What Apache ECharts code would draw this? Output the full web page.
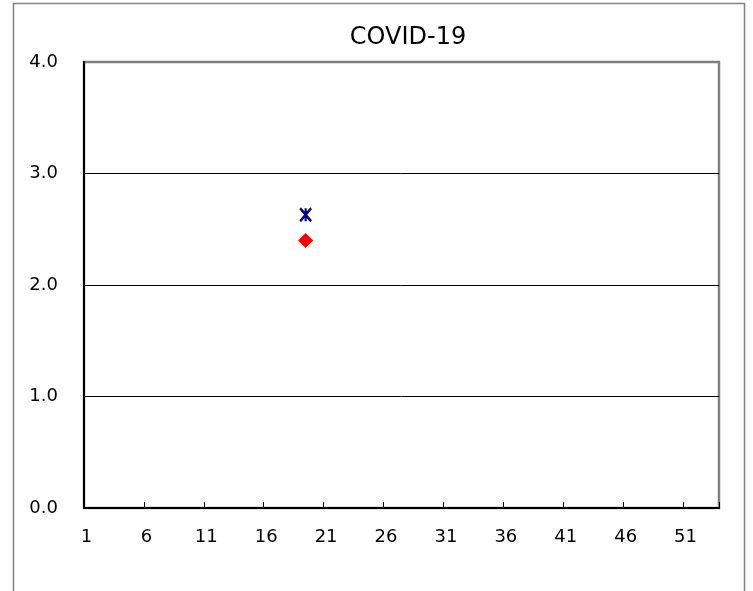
<!DOCTYPE html>
<html>
<head>
<meta charset="utf-8">
<script src="https://cdn.jsdelivr.net/npm/echarts@6/dist/echarts.min.js"></script>
<style>
html,body{margin:0;padding:0;background:#fff;}
#chart{width:753px;height:591px;}
</style>
</head>
<body>
<div id="chart"></div>
<script>
const chartTitle = 'COVID-19';
const weeks = ['1','2','3','4','5','6','7','8','9','10','11','12','13','14','15','16','17','18','19','20',
  '21','22','23','24','25','26','27','28','29','30','31','32','33','34','35','36','37','38','39','40',
  '41','42','43','44','45','46','47','48','49','50','51','52','53'];
const blueWeeks = ['19'];
const blueValues = [2.63];
const redWeeks = ['19'];
const redValues = [2.40];
const yTicks = [0, 1, 2, 3, 4];

const font = '"DejaVu Sans", sans-serif';
const chart = echarts.init(document.getElementById('chart'), null, {renderer: 'canvas'});
chart.setOption({
  animation: false,
  backgroundColor: '#fff',
  graphic: [{
    type: 'rect', silent: true, z: 100,
    shape: {x: 13.5, y: 3.5, width: 731, height: 620},
    style: {fill: 'none', stroke: '#808080', lineWidth: 1.5}
  }, {
    type: 'text', silent: true, z: 100, x: 408, y: 38,
    style: {text: chartTitle, fill: '#000', font: '24px "DejaVu Sans", sans-serif', textAlign: 'center', textVerticalAlign: 'middle'}
  }],
  grid: {left: 84, top: 62, right: 34, bottom: 83, show: true, borderColor: '#808080', borderWidth: 2.5, backgroundColor: 'transparent'},
  xAxis: {
    type: 'category', data: weeks, boundaryGap: true,
    axisLine: {show: true, lineStyle: {color: '#000', width: 2}},
    axisTick: {show: true, inside: true, length: 6, interval: 4, lineStyle: {color: '#000', width: 1}},
    axisLabel: {interval: 4, margin: 20, padding: [0, 7, 0, 0], fontFamily: font, fontSize: 18, color: '#000'},
    splitLine: {show: false}
  },
  yAxis: {
    type: 'value', min: yTicks[0], max: yTicks[yTicks.length - 1], interval: 1,
    axisLine: {show: true, lineStyle: {color: '#000', width: 2}},
    axisTick: {show: false},
    axisLabel: {margin: 26, fontFamily: font, fontSize: 18, color: '#000', formatter: v => v.toFixed(1)},
    splitLine: {show: true, showMinLine: false, showMaxLine: false, lineStyle: {color: '#000', width: 1}}
  },
  series: [{
    type: 'scatter',
    data: blueWeeks.map((w, i) => [w, blueValues[i]]),
    symbol: 'path://M0,0L10,10M10,0L0,10M5,0L5,10',
    symbolSize: [11, 13],
    itemStyle: {color: 'none', borderColor: '#000080', borderWidth: 2.4, opacity: 1},
    z: 5
  }, {
    type: 'scatter',
    data: redWeeks.map((w, i) => [w, redValues[i]]),
    symbol: 'diamond',
    symbolSize: [15, 15],
    itemStyle: {color: '#ff0000', opacity: 1},
    z: 4
  }]
});
</script>
</body>
</html>
